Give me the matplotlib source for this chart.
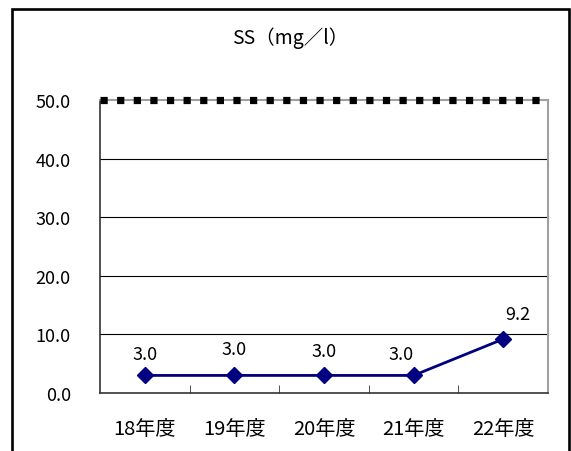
import numpy as np
import matplotlib.pyplot as plt
from matplotlib.patches import Rectangle

plt.rcParams['font.family'] = ['Noto Sans CJK JP', 'DejaVu Sans']

# --- データ ---
years = ['18年度', '19年度', '20年度', '21年度', '22年度']
ss = [3.0, 3.0, 3.0, 3.0, 9.2]
limit = 50.0  # 基準値
title = 'SS（mg／l）'

x = np.arange(len(years))

fig = plt.figure(figsize=(5.71, 4.52), dpi=100)
ax = fig.add_axes([100 / 571, 1 - 394 / 452, 448 / 571, 293 / 452])

# 外枠
fig.patches.append(Rectangle((12 / 571, -0.05), 557 / 571, 1.05 - 10 / 452,
                             transform=fig.transFigure, fill=False,
                             edgecolor='black', linewidth=1.9))

# 目盛線
for yv in [10, 20, 30, 40]:
    ax.axhline(yv, color='black', linewidth=0.8, zorder=1)

# 基準値の線
ax.axhline(limit, color='black', linewidth=5.2, linestyle=(0, (1, 1.3)),
           dash_capstyle='butt', zorder=3, clip_on=False)

ax.plot(x, ss, color='#000080', linewidth=2, marker='D', markersize=8,
        zorder=4, clip_on=False)

# 値ラベル (ピクセル単位のずらし)
offsets = [(0, 21), (0, 26), (0, 24), (-13, 21), (15, 25)]
for xi, yi, (dx, dy) in zip(x, ss, offsets):
    ax.annotate(f'{yi:.1f}', (xi, yi), xytext=(dx, dy), textcoords='offset pixels',
                ha='center', va='center', fontsize=13)

ax.set_xlim(-0.5, len(years) - 0.5)
ax.set_ylim(0, 50)
ax.set_yticks(np.arange(0, 51, 10))
ax.set_yticklabels([f'{v:.1f}' for v in np.arange(0, 51, 10)], fontsize=13)
ax.set_xticks(x)
ax.set_xticklabels(years, fontsize=14.5)
ax.set_xticks(np.arange(0.5, len(years) - 1, 1), minor=True)
ax.tick_params(axis='x', which='major', length=0, pad=18)
ax.tick_params(axis='x', which='minor', direction='in', length=6, color='#333333')
ax.tick_params(axis='y', length=0, pad=21)

for s in ['left', 'bottom']:
    ax.spines[s].set_color('#333333')
    ax.spines[s].set_linewidth(1.2)
for s in ['top', 'right']:
    ax.spines[s].set_color('#a0a0a0')
    ax.spines[s].set_linewidth(1.5)

fig.text(290 / 571, 1 - 38 / 452, title, ha='center', va='center', fontsize=14)

fig.savefig('out.png', dpi=100)
